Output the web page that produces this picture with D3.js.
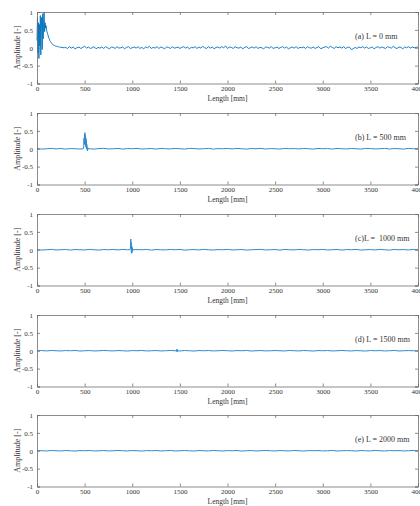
<!DOCTYPE html>
<html><head><meta charset="utf-8">
<script src="https://cdn.jsdelivr.net/npm/d3@7"></script>
<style>body{margin:0;background:#fff}text{font-family:"Liberation Serif","DejaVu Serif",serif}</style>
</head><body><div id="c"></div>
<script>
// ---------- data ----------
const xTicks = [0, 500, 1000, 1500, 2000, 2500, 3000, 3500, 4000];
const yTicks = [-1, -0.5, 0, 0.5, 1];
const yTickLabels = ["-1", "-0.5", "0", "0.5", "1"];
const xLabel = "Length [mm]";
const yLabel = "Amplitude [-]";
const panelLabels = ["(a) L = 0 mm", "(b) L = 500 mm", "(c)L =  1000 mm", "(d) L = 1500 mm", "(e) L = 2000 mm"];

// Panel (a): head sampled every 5 mm from 0 to 295, tail every 20 mm from 300 to 4000
const aHeadStep = 5, aTailStart = 300, aTailStep = 20;
const aHeadY = [0.2,0.85,-0.15,0.7,-0.3,0.65,0.05,0.9,-0.2,0.55,0.85,-0.05,0.95,0.25,0.8,1.0,0.45,0.7,0.55,0.62,
  0.5,0.45,0.4,0.36,0.3,0.27,0.24,0.2,0.18,0.16,0.14,0.12,0.11,0.1,0.08,0.075,0.06,0.065,0.05,0.045,
  0.04,0.045,0.03,0.035,0.02,0.03,0.015,0.025,0.01,0.02,0.005,0.015,0.0,0.02,-0.005,0.01,0.0,0.012,-0.01,0.008];
const aTailY = [
  0.01,-0.02,0.03,-0.01,0.02,-0.03,0.0,0.02,-0.02,0.01,0.04,-0.01,0.02,-0.02,0.0,0.03,-0.03,0.01,-0.01,0.02,
  -0.02,0.03,0.0,-0.03,0.02,0.01,-0.02,0.03,-0.01,0.0,0.02,-0.03,0.01,0.03,-0.02,0.0,0.02,-0.01,0.03,-0.02,
  0.01,-0.03,0.02,0.0,0.04,-0.02,0.01,-0.01,0.03,-0.02,0.02,0.0,-0.03,0.02,0.01,-0.02,0.03,-0.01,0.0,0.02,
  -0.02,0.01,0.03,-0.01,0.02,-0.03,0.01,0.0,0.03,-0.02,0.02,-0.01,0.04,0.0,-0.02,0.03,-0.01,0.02,-0.03,0.01,
  0.02,-0.01,0.03,0.0,0.05,-0.02,0.02,0.01,-0.02,0.03,0.0,-0.01,0.02,-0.03,0.01,0.03,-0.02,0.0,0.02,-0.01,
  0.03,-0.02,0.01,0.0,-0.03,0.02,0.01,-0.01,0.03,-0.02,0.0,0.02,-0.02,0.01,0.03,-0.01,0.02,-0.03,0.0,0.02,
  -0.01,0.03,-0.02,0.01,0.0,0.02,-0.02,0.03,0.0,-0.01,0.02,-0.02,0.01,0.03,-0.03,0.0,0.02,0.03,-0.01,0.04,
  0.01,-0.02,0.03,0.0,0.02,-0.01,0.03,-0.02,0.01,0.02,-0.05,-0.03,0.01,-0.02,0.02,0.0,0.03,-0.01,0.02,-0.02,
  0.0,0.02,-0.03,0.01,0.03,-0.01,0.02,0.0,-0.02,0.03,0.01,-0.01,0.04,0.0,-0.02,0.02,0.01,-0.03,0.02,0.0,
  0.03,-0.01,0.02,0.0,0.01,0.02];

// Panels (b)-(e): flat baseline sampled every 50 mm, plus local echo segments
const baseStep = 50;
const bBaseY = [0.01,-0.01,0.0,0.01,-0.005,0.008,-0.01,0.005,0.0,-0.008,0.01,0.0,-0.01,0.006,0.01,-0.005,0.0,0.008,-0.01,0.005,
  0.0,0.01,-0.008,0.0,0.006,-0.01,0.01,0.0,-0.005,0.008,0.0,-0.01,0.01,0.005,-0.006,0.0,0.01,-0.01,0.004,0.0,
  0.008,-0.005,0.01,0.0,-0.01,0.006,0.0,0.01,-0.008,0.005,0.0,-0.01,0.01,0.0,0.006,-0.006,0.01,0.0,-0.01,0.008,
  0.0,0.005,-0.01,0.01,0.0,-0.006,0.008,0.0,-0.01,0.01,0.004,-0.005,0.0,0.01,-0.008,0.006,0.0,-0.01,0.01,0.0,0.005];
const bEchoX = [485,490,494,497,499,501,503,505,507,509,511,513,515,517,519,521,523,526,529,532,536,540,545];
const bEchoY = [0.0,0.05,0.3,0.12,0.4,0.2,0.45,0.18,0.38,0.1,0.32,0.06,0.27,0.03,0.2,0.0,0.12,0.02,-0.06,0.03,-0.02,0.01,0.0];
const cBaseY = [0.005,-0.008,0.0,0.01,-0.005,0.0,0.008,-0.01,0.005,0.0,-0.006,0.01,0.0,-0.01,0.006,0.0,0.008,-0.005,0.01,0.0,
  -0.008,0.005,0.0,0.01,-0.01,0.006,0.0,-0.005,0.008,0.0,0.01,-0.01,0.0,0.006,-0.006,0.01,0.0,-0.008,0.005,0.0,
  0.01,-0.005,0.0,0.008,-0.01,0.0,0.006,0.01,-0.006,0.0,0.005,-0.01,0.008,0.0,-0.005,0.01,0.0,-0.008,0.006,0.0,
  0.01,-0.006,0.0,0.008,-0.01,0.005,0.0,0.01,-0.008,0.0,0.006,-0.005,0.01,0.0,-0.01,0.008,0.0,0.005,-0.006,0.01,0.0];
const cEchoX = [975,980,983,985,987,989,991,993,995,997,999,1001,1003,1006,1010,1015];
const cEchoY = [0.0,0.02,0.1,0.3,0.05,0.2,-0.08,0.12,-0.1,0.08,-0.05,0.04,-0.02,0.02,0.0,0.0];
const dBaseY = [0.0,0.006,-0.005,0.008,0.0,-0.006,0.005,0.0,0.008,-0.008,0.0,0.005,-0.006,0.0,0.008,0.0,-0.005,0.006,0.0,-0.008,
  0.005,0.0,0.008,-0.006,0.0,0.005,-0.005,0.0,0.008,0.0,-0.006,0.006,0.0,-0.008,0.005,0.0,0.006,-0.005,0.0,0.008,
  0.0,-0.006,0.005,0.0,0.008,-0.008,0.0,0.006,-0.005,0.0,0.005,0.0,-0.006,0.008,0.0,-0.005,0.006,0.0,-0.008,0.005,
  0.0,0.006,-0.005,0.0,0.008,0.0,-0.006,0.005,0.0,-0.008,0.006,0.0,0.005,-0.005,0.0,0.008,-0.006,0.0,0.005,0.0,0.0];
const dEchoX = [1460,1465,1468,1470,1472,1474,1477,1480];
const dEchoY = [0.0,0.01,0.04,-0.03,0.03,-0.02,0.01,0.0];
const eBaseY = [0.005,0.0,-0.006,0.008,0.0,-0.005,0.006,0.0,-0.008,0.005,0.0,0.008,-0.006,0.0,0.005,-0.005,0.0,0.008,0.0,-0.006,
  0.006,0.0,-0.008,0.005,0.0,0.006,-0.005,0.0,0.008,-0.006,0.0,0.005,0.0,-0.008,0.006,0.0,-0.005,0.008,0.0,-0.006,
  0.005,0.0,0.006,-0.008,0.0,0.005,-0.005,0.0,0.008,0.0,-0.006,0.006,0.0,-0.005,0.008,0.0,-0.008,0.005,0.0,0.006,
  -0.005,0.0,0.008,-0.006,0.0,0.005,0.0,-0.008,0.006,0.0,-0.005,0.008,0.0,-0.006,0.005,0.0,0.006,-0.005,0.0,0.008,0.0];

// ---------- build series ----------
function fromStep(ys, start, step) { return ys.map((y, i) => [start + i * step, y]); }
function withEcho(baseY, ex, ey) {
  const lo = ex[0], hi = ex[ex.length - 1];
  const pts = fromStep(baseY, 0, baseStep).filter(p => p[0] < lo || p[0] > hi);
  ex.forEach((x, i) => pts.push([x, ey[i]]));
  return pts.sort((a, b) => a[0] - b[0]);
}
const series = [
  fromStep(aHeadY, 0, aHeadStep).concat(fromStep(aTailY, aTailStart, aTailStep)),
  withEcho(bBaseY, bEchoX, bEchoY),
  withEcho(cBaseY, cEchoX, cEchoY),
  withEcho(dBaseY, dEchoX, dEchoY),
  fromStep(eBaseY, 0, baseStep)
];

// ---------- draw ----------
const W = 420, H = 506;
const left = 37, right = 418, panelH = 71.5;
const tops = [12, 113, 214, 315, 415];
const frameColor = "#6e6e6e", textColor = "#333", lineColor = "#0072BD", flatColor = "#2f8bd0";

const svg = d3.select("#c").append("svg").attr("width", W).attr("height", H);
const x = d3.scaleLinear().domain([0, 4000]).range([left, right]);

series.forEach((data, k) => {
  const top = tops[k];
  const y = d3.scaleLinear().domain([-1, 1]).range([top + panelH, top]);
  const g = svg.append("g");

  // data line
  g.append("path").datum(data)
    .attr("fill", "none").attr("stroke", k === 0 ? lineColor : flatColor).attr("stroke-width", k === 0 ? 0.9 : 1)
    .attr("stroke-linejoin", "round")
    .attr("d", d3.line().x(d => x(d[0])).y(d => y(d[1])));

  // axes (ticks inside, MATLAB style)
  const ax = d3.axisBottom(x).tickValues(xTicks).tickSize(-3).tickPadding(3).tickFormat(d3.format("d"));
  const axT = d3.axisTop(x).tickValues(xTicks).tickSize(-3).tickFormat("");
  const ay = d3.axisLeft(y).tickValues(yTicks).tickSize(-3).tickPadding(4).tickFormat((d, i) => yTickLabels[i]);
  const ayR = d3.axisRight(y).tickValues(yTicks).tickSize(-3).tickFormat("");
  [[ax, `translate(0,${top + panelH})`], [axT, `translate(0,${top})`], [ay, `translate(${left},0)`], [ayR, `translate(${right},0)`]]
    .forEach(([a, t]) => {
      const ag = g.append("g").attr("transform", t).call(a);
      ag.select(".domain").attr("stroke", frameColor).attr("stroke-width", 0.8);
      ag.selectAll(".tick line").attr("stroke", frameColor).attr("stroke-width", 0.8);
      ag.selectAll(".tick text").attr("fill", textColor).attr("font-size", 7)
        .style("font-family", '"Liberation Serif", serif');
    });

  // axis labels
  g.append("text").attr("x", (left + right) / 2).attr("y", top + panelH + 17)
    .attr("text-anchor", "middle").attr("font-size", 7.5).attr("fill", textColor).text(xLabel);
  g.append("text").attr("transform", `translate(18,${top + panelH / 2}) rotate(-90)`)
    .attr("text-anchor", "middle").attr("dominant-baseline", "middle")
    .attr("font-size", 8).attr("fill", textColor).text(yLabel);

  // panel label
  g.append("text").attr("x", 355).attr("y", top + 27)
    .attr("font-size", 8).attr("fill", textColor).style("white-space", "pre")
    .text(panelLabels[k]);
});
</script>
</body></html>
